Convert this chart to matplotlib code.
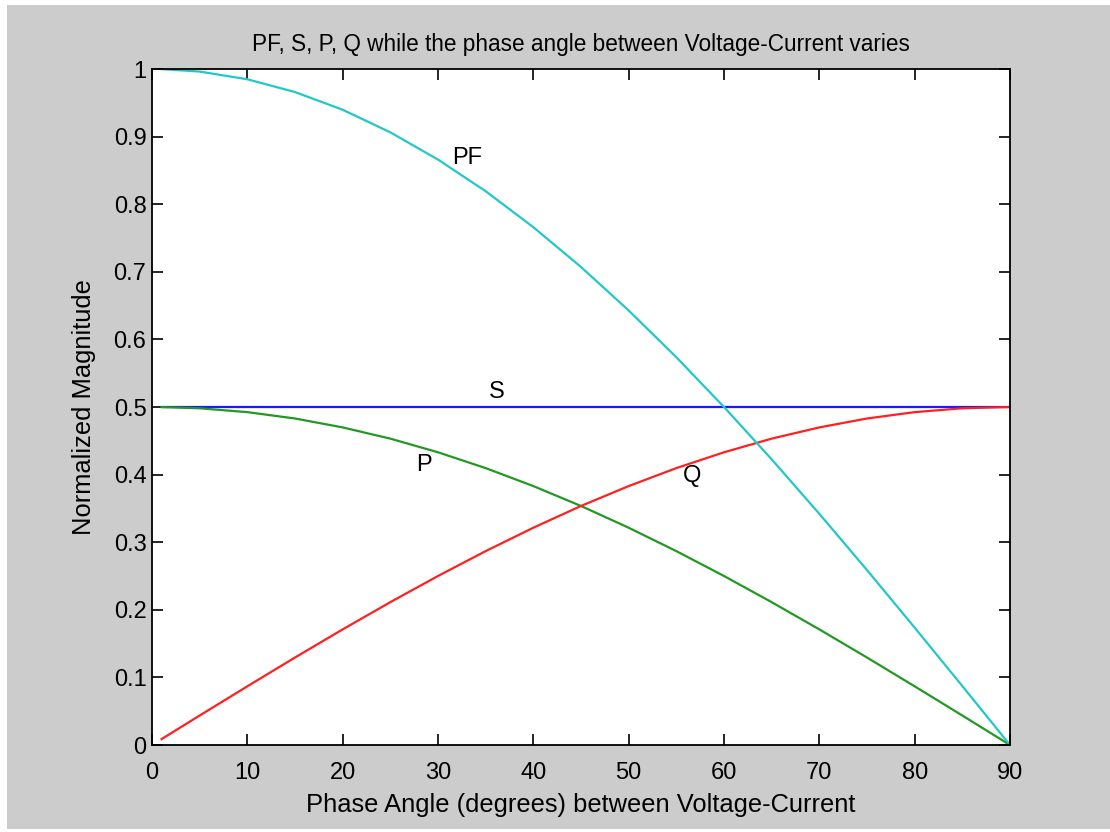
import matplotlib
matplotlib.use("Agg")
import matplotlib.pyplot as plt
from matplotlib.patches import Rectangle

angle = [1, 5, 10, 15, 20, 25, 30, 35, 40, 45, 50, 55, 60, 65, 70, 75, 80, 85, 90]
pf = [0.9998, 0.9962, 0.9848, 0.9659, 0.9397, 0.9063, 0.8660, 0.8192, 0.7660, 0.7071,
      0.6428, 0.5736, 0.5000, 0.4226, 0.3420, 0.2588, 0.1736, 0.0872, 0.0]
s_val = [0.5] * len(angle)
p_val = [0.4999, 0.4981, 0.4924, 0.4830, 0.4698, 0.4532, 0.4330, 0.4096, 0.3830, 0.3536,
         0.3214, 0.2868, 0.2500, 0.2113, 0.1710, 0.1294, 0.0868, 0.0436, 0.0]
q_val = [0.0087, 0.0436, 0.0868, 0.1294, 0.1710, 0.2113, 0.2500, 0.2868, 0.3214, 0.3536,
         0.3830, 0.4096, 0.4330, 0.4532, 0.4698, 0.4830, 0.4924, 0.4981, 0.5]
x_ticks = [0, 10, 20, 30, 40, 50, 60, 70, 80, 90]
y_ticks = [0, 0.1, 0.2, 0.3, 0.4, 0.5, 0.6, 0.7, 0.8, 0.9, 1]
y_labels = ["0", "0.1", "0.2", "0.3", "0.4", "0.5", "0.6", "0.7", "0.8", "0.9", "1"]
annotations = [("PF", 31.5, 0.868), ("S", 35.3, 0.522), ("P", 27.7, 0.414), ("Q", 55.7, 0.398)]

plt.rcParams['font.family'] = ['Liberation Sans', 'DejaVu Sans']

fig = plt.figure(figsize=(11.1, 8.32), dpi=100, facecolor='white')
fig.patches.append(Rectangle((7/1110, 3/832), 1 - 7/1110, 1 - 8/832,
                             transform=fig.transFigure, facecolor='#cccccc',
                             edgecolor='none', zorder=-10))
ax = fig.add_axes([152/1110, 87/832, 858/1110, 676/832])
ax.set_facecolor('white')

ax.plot(angle, s_val, color='#1a1aff', lw=1.6)
ax.plot(angle, p_val, color='#229922', lw=1.6)
ax.plot(angle, q_val, color='#ff2020', lw=1.6)
ax.plot(angle, pf, color='#22c8c8', lw=1.6)

for txt, x, y in annotations:
    ax.text(x, y, txt, fontsize=17, ha='left', va='center')

ax.set_xlim(0, 90)
ax.set_ylim(0, 1)
ax.set_xticks(x_ticks)
ax.set_yticks(y_ticks)
ax.set_yticklabels(y_labels)
ax.tick_params(direction='in', length=8, width=1.2, top=True, right=True, labelsize=17)
ax.tick_params(axis='x', pad=12)
ax.tick_params(axis='y', pad=4)
for sp in ax.spines.values():
    sp.set_linewidth(1.3)
    sp.set_color('black')

ax.set_title("PF, S, P, Q while the phase angle between Voltage-Current varies",
             fontsize=16.3, pad=13)
ax.set_xlabel("Phase Angle (degrees) between Voltage-Current", fontsize=18.4, labelpad=7)
ax.set_ylabel("Normalized Magnitude", fontsize=18.4, labelpad=13)

fig.savefig("out.png", dpi=100, facecolor=fig.get_facecolor())
